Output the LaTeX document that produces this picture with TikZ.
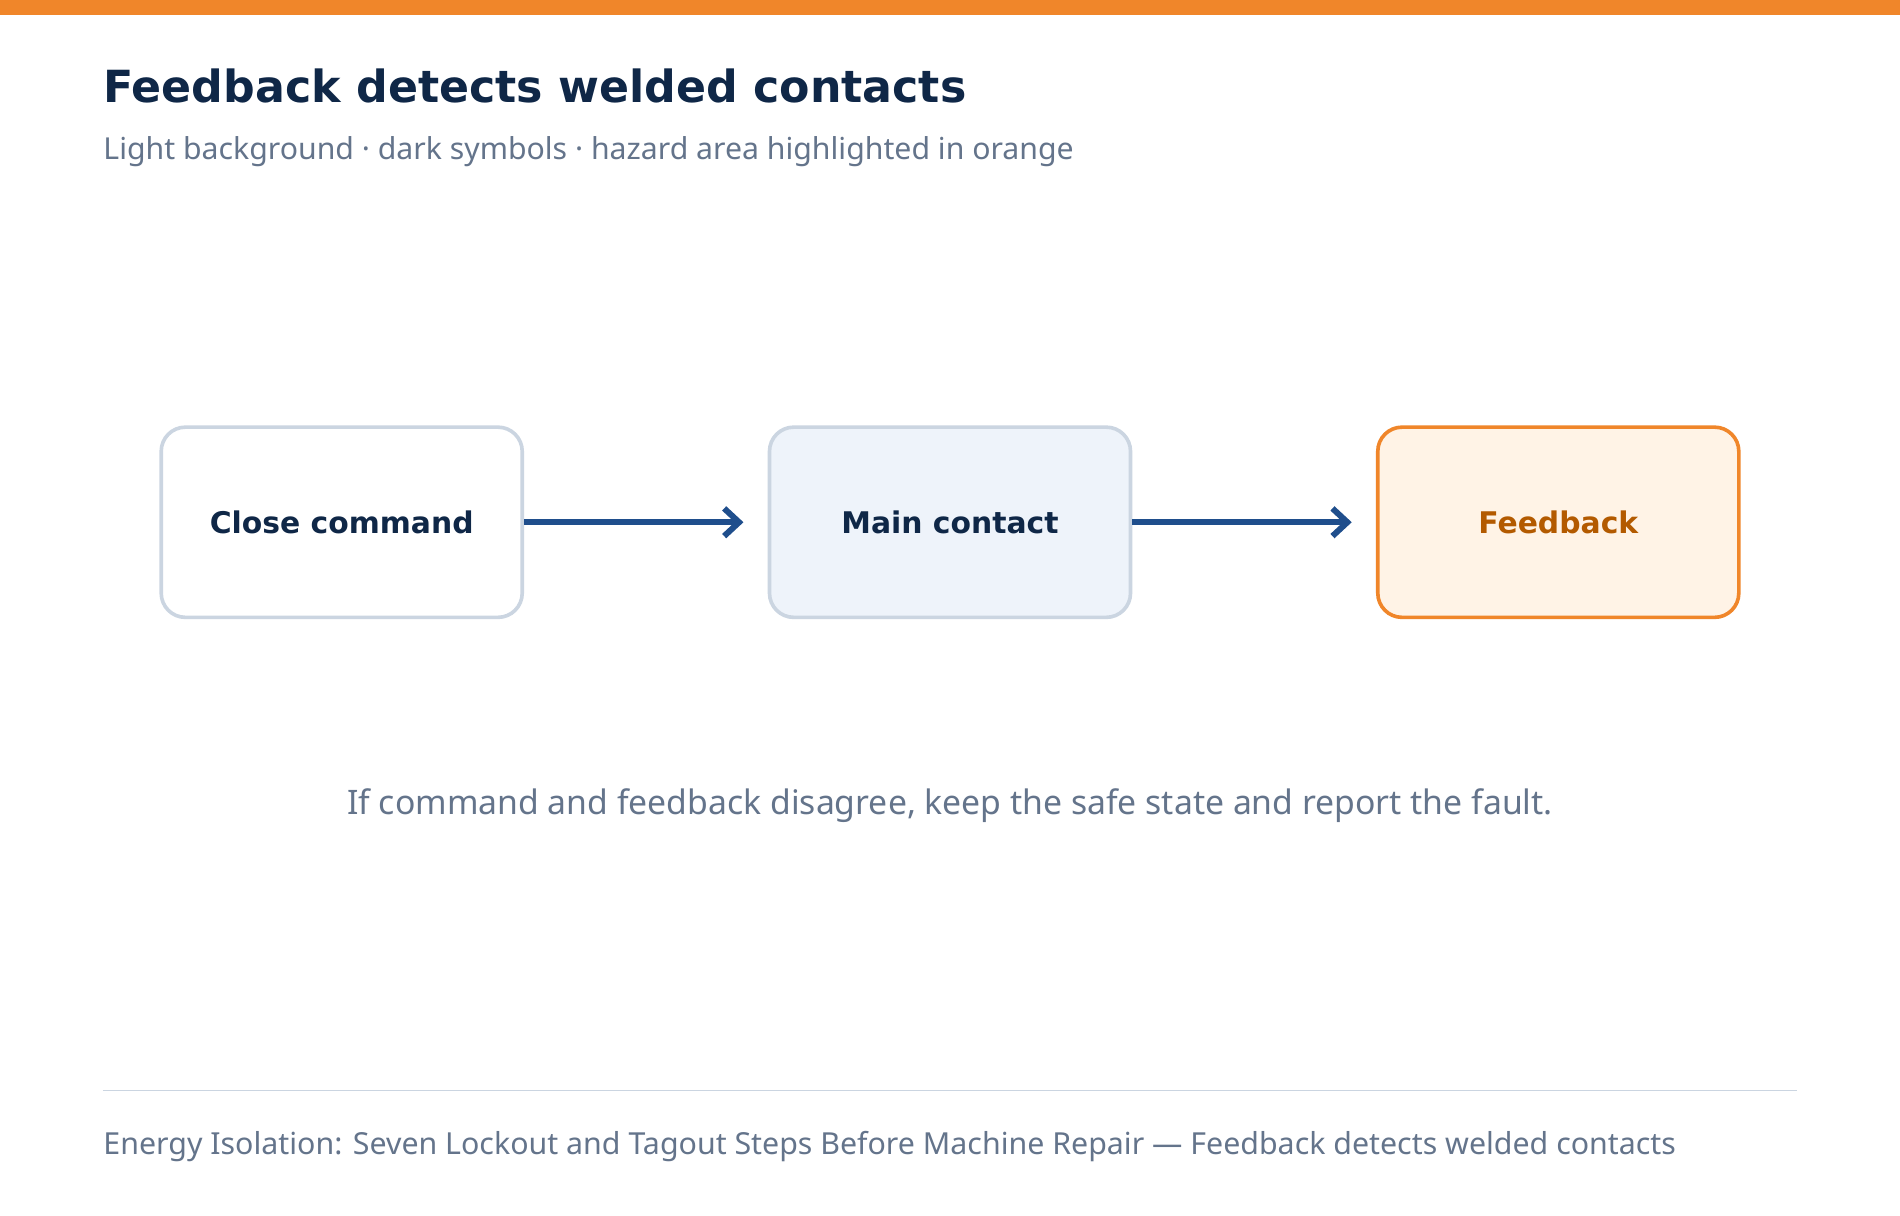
\documentclass[tikz,border=0pt]{standalone}
\usepackage{fontspec}
\setmainfont{Noto Sans}
\newfontfamily\boldf{DejaVu Sans}
\usetikzlibrary{arrows.meta}
\definecolor{navy}{HTML}{0F2747}
\definecolor{gr}{HTML}{64748B}
\definecolor{bx}{HTML}{CBD5E1}
\definecolor{orn}{HTML}{F0862A}
\definecolor{arr}{HTML}{1F4E8C}
\definecolor{midfill}{HTML}{EEF3FA}
\definecolor{ofill}{HTML}{FFF3E6}
\definecolor{otext}{HTML}{B35A00}
\begin{document}
\begin{tikzpicture}[x=0.02cm,y=-0.02cm,
  box/.style={draw=bx,line width=1.7pt,rounded corners=0.4cm,minimum width=5.96cm,minimum height=3.14cm,font=\boldf\bfseries\fontsize{14}{17}\selectfont,text=navy},
  link/.style={draw=arr,line width=2.8pt,-{Straight Barb[length=7pt,width=13pt,line width=2.8pt]}}]
\useasboundingbox (0,0) rectangle (1568,1003);
\fill[white] (0,0) rectangle (1568,1003);
\fill[orn] (0,0) rectangle (1568,12);
\node[anchor=base west,text=navy,font=\boldf\bfseries\fontsize{20.8}{25}\selectfont,inner sep=0] (title) at (85,85) {Feedback detects welded contacts};
\node[anchor=base west,text=gr,font=\fontsize{14.2}{17}\selectfont,inner sep=0] (sub) at (85,132) {Light background · dark symbols · hazard area highlighted in orange};
\node[box,fill=white] (a) at (282,431) {Close command};
\node[box,fill=midfill] at (784,431) (b) {Main contact};
\node[box,draw=orn,fill=ofill,text=otext] (c) at (1286,431) {Feedback};
\draw[link] (a.east) -- ([xshift=-0.4cm]b.west);
\draw[link] (b.east) -- ([xshift=-0.4cm]c.west);
\node[text=gr,font=\fontsize{15.85}{19}\selectfont,inner sep=0] (note) at (784,665) {If command and feedback disagree, keep the safe state and report the fault.};
\coordinate (l1) at (85,900); \coordinate (l2) at (1483,900);
\draw[bx,line width=0.8pt] (l1) -- (l2);
\node[anchor=base west,text=gr,font=\fontsize{14.25}{17}\selectfont,inner sep=0] (foot) at (85,953) {Energy Isolation: Seven Lockout and Tagout Steps Before Machine Repair — Feedback detects welded contacts};
\end{tikzpicture}
\end{document}
